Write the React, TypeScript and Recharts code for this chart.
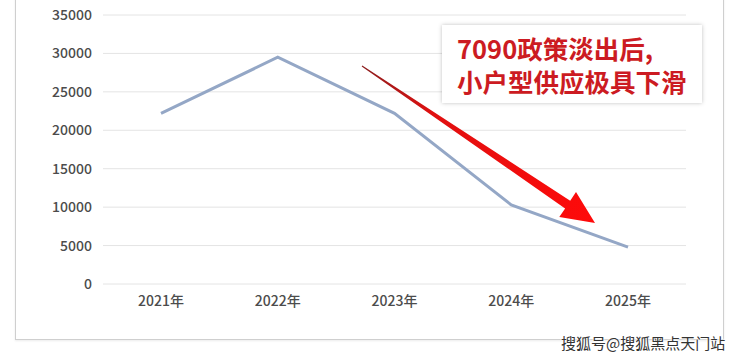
import React from 'react';
import { LineChart, Line, XAxis, YAxis, CartesianGrid } from 'recharts';

const years = ['2021年', '2022年', '2023年', '2024年', '2025年'];
const supply = [22200, 29500, 22200, 10300, 4800];
const yTicks = [0, 5000, 10000, 15000, 20000, 25000, 30000, 35000];
const noteLines = ['7090政策淡出后,', '小户型供应极具下滑'];
const watermark = '搜狐号@搜狐黑点天门站';

const data = years.map((y, i) => ({ year: y, value: supply[i] }));

const FONT = '"Noto Sans CJK SC", "Noto Sans", sans-serif';

// arrow geometry (decoration)
const start = { x: 362, y: 66 };
const tip = { x: 595, y: 223 };
const dx = tip.x - start.x;
const dy = tip.y - start.y;
const len = Math.sqrt(dx * dx + dy * dy);
const ux = dx / len;
const uy = dy / len;
const px = -uy;
const py = ux;
const headLen = 33;
const headHalf = 15;
const shaftEndHalf = 4.6;
const shaftStartHalf = 0.5;
const base = { x: tip.x - ux * headLen, y: tip.y - uy * headLen };
const arrowPts = [
  [start.x + px * shaftStartHalf, start.y + py * shaftStartHalf],
  [base.x + px * shaftEndHalf, base.y + py * shaftEndHalf],
  [base.x + px * headHalf, base.y + py * headHalf],
  [tip.x, tip.y],
  [base.x - px * headHalf, base.y - py * headHalf],
  [base.x - px * shaftEndHalf, base.y - py * shaftEndHalf],
  [start.x - px * shaftStartHalf, start.y - py * shaftStartHalf],
]
  .map((p) => p[0].toFixed(1) + ',' + p[1].toFixed(1))
  .join(' ');

export default function App() {
  return (
    <div
      style={{
        position: 'absolute',
        left: 0,
        top: 0,
        width: 740,
        height: 358,
        background: '#fff',
        overflow: 'hidden',
        fontFamily: FONT,
      }}
    >
      {/* card border */}
      <div
        style={{
          position: 'absolute',
          left: 15,
          top: -5,
          width: 709,
          height: 345,
          border: '1.5px solid #cfcfcf',
          borderTop: 'none',
          boxShadow: '0 1px 2px rgba(0,0,0,0.08)',
          boxSizing: 'border-box',
        }}
      />
      <div style={{ position: 'absolute', left: 0, top: 0 }}>
        <LineChart
          width={740}
          height={358}
          data={data}
          margin={{ top: 15, right: 54, left: 0, bottom: 44 }}
        >
          <CartesianGrid vertical={false} stroke="#e4e4e4" strokeWidth={1} />
          <XAxis
            dataKey="year"
            axisLine={false}
            tickLine={false}
            height={30}
            tickMargin={6}
            padding={{ left: 58, right: 58 }}
            tick={{ fill: '#4c4c4c', fontSize: 14, fontWeight: 500, fontFamily: FONT }}
          />
          <YAxis
            domain={[0, 35000]}
            ticks={yTicks}
            axisLine={false}
            tickLine={false}
            width={103}
            tickMargin={5}
            tick={{ fill: '#4c4c4c', fontSize: 14, fontWeight: 500, fontFamily: FONT }}
          />
          <Line
            type="linear"
            dataKey="value"
            stroke="#94a7c6"
            strokeWidth={3}
            dot={false}
            isAnimationActive={false}
          />
        </LineChart>
      </div>
      <svg
        width={740}
        height={358}
        style={{ position: 'absolute', left: 0, top: 0, pointerEvents: 'none' }}
      >
        <defs>
          <linearGradient id="arrowGrad" x1={start.x} y1={start.y} x2={tip.x} y2={tip.y} gradientUnits="userSpaceOnUse">
            <stop offset="0" stopColor="#8a1d1d" />
            <stop offset="0.3" stopColor="#e01010" />
            <stop offset="1" stopColor="#ff0a0a" />
          </linearGradient>
        </defs>
        <polygon points={arrowPts} fill="url(#arrowGrad)" />
      </svg>
      {/* annotation box */}
      <div
        style={{
          position: 'absolute',
          left: 442,
          top: 25,
          width: 260,
          height: 78,
          background: '#fff',
          boxShadow: '0 0 4px rgba(0,0,0,0.25)',
          boxSizing: 'border-box',
          paddingLeft: 15,
          paddingTop: 6,
          color: '#cc1b22',
          fontWeight: 700,
          fontSize: 25.5,
          lineHeight: '33px',
          whiteSpace: 'nowrap',
        }}
      >
        {noteLines.map((t, i) => (
          <div key={i}>{t}</div>
        ))}
      </div>
      {/* watermark */}
      <div
        style={{
          position: 'absolute',
          left: 561,
          top: 332,
          fontSize: 15,
          lineHeight: '22px',
          color: '#333',
          whiteSpace: 'nowrap',
          textShadow: '0 0 2px #fff, 0 0 2px #fff, 0 0 3px #fff',
        }}
      >
        {watermark}
      </div>
    </div>
  );
}
